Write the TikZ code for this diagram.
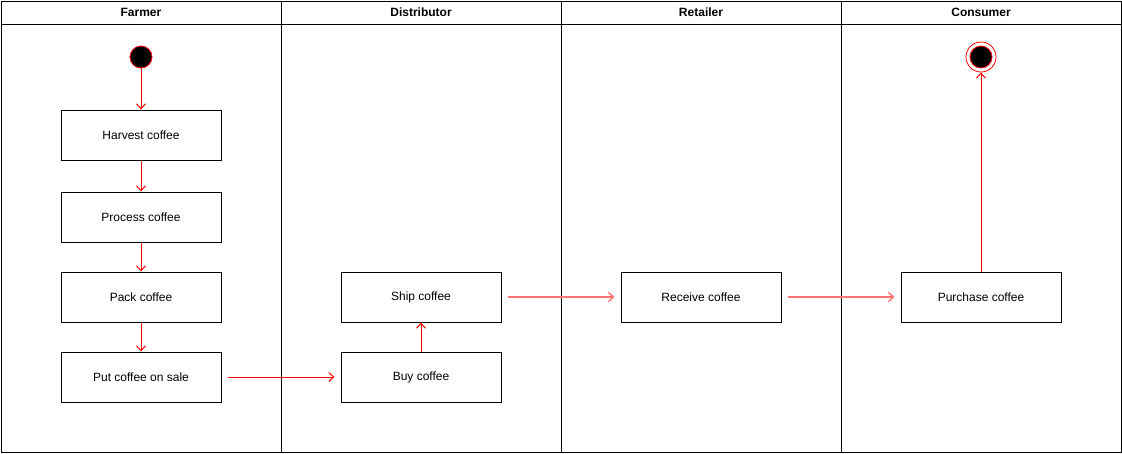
\documentclass[tikz,border=0pt]{standalone}
\usepackage{fontspec}
\setmainfont{Liberation Sans}
\usetikzlibrary{arrows.meta}
\begin{document}
\begin{tikzpicture}[x=1pt,y=-1pt,
  act/.style={draw=black,line width=1pt,minimum width=160pt,minimum height=50pt,inner sep=0pt,font=\fontsize{12}{14}\selectfont,fill=white},
  flow/.style={draw=red,line width=1pt,-{Straight Barb[length=5pt,width=9pt,line width=1pt]}},
  softflow/.style={draw=red!55,line width=1.6pt,-{Straight Barb[length=5pt,width=9pt,line width=1.4pt]}},
  lane/.style={draw=black,line width=1pt},
  hdr/.style={font=\bfseries\fontsize{12}{14}\selectfont}]
\useasboundingbox (0,0) rectangle (1122,453);
% lanes
\draw[lane] (1,1) rectangle (1121,452);
\draw[lane] (1,24) -- (1121,24);
\draw[lane] (281,1) -- (281,452);
\draw[lane] (561,1) -- (561,452);
\draw[lane] (841,1) -- (841,452);
\node[hdr] (hf) at (141,12.5) {Farmer};
\node[hdr] (hd) at (421,12.5) {Distributor};
\node[hdr] (hr) at (701,12.5) {Retailer};
\node[hdr] (hc) at (981,12.5) {Consumer};
% nodes
\node[circle,draw=red,fill=black,line width=0.8pt,minimum size=22pt,inner sep=0pt] (start) at (141,57) {};
\node[act] (harvest) at (141,135) {Harvest coffee};
\node[act] (process) at (141,217) {Process coffee};
\node[act] (pack) at (141,297) {Pack coffee};
\node[act] (sale) at (141,377) {Put coffee on sale};
\node[act] (buy) at (421,377) {Buy coffee};
\node[act] (ship) at (421,297) {Ship coffee};
\node[act] (receive) at (701,297) {Receive coffee};
\node[act] (purchase) at (981,297) {Purchase coffee};
\node[circle,draw=red,line width=0.8pt,minimum size=30pt,inner sep=0pt] (end) at (981,57) {};
\node[circle,fill=black,draw=red,line width=0.8pt,minimum size=22pt,inner sep=0pt] (endin) at (981,57) {};
% edges
\draw[flow] (start) -- (harvest);
\draw[flow] (harvest) -- (process);
\draw[flow] (process) -- (pack);
\draw[flow] (pack) -- (sale);
\draw[flow,shorten <=6pt,shorten >=6pt] (sale) -- (buy);
\draw[flow] (buy) -- (ship);
\draw[softflow,shorten <=6pt,shorten >=6pt] (ship) -- (receive);
\draw[softflow,shorten <=6pt,shorten >=6pt] (receive) -- (purchase);
\draw[flow] (purchase) -- (end);
\end{tikzpicture}
\end{document}
